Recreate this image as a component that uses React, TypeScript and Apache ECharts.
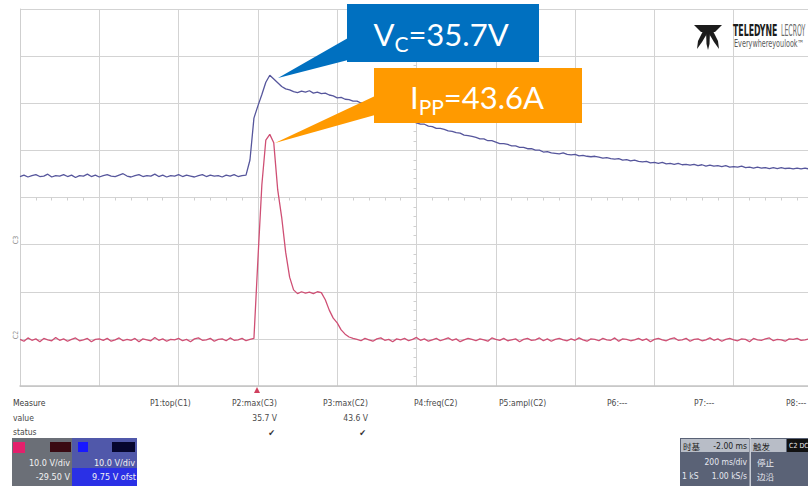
import React, { useEffect, useRef } from 'react';
import * as echarts from 'echarts';

// Oscilloscope capture: time base in screen divisions, one sample every 0.05 div
const SAMPLE_DIV = 0.05;
const X_MAX_DIV = 9.937; // right edge of the picture (screen is cut just before the 10th division)
const Y_DIVS = 8;
const VOLTS_PER_DIV = 10;
const C3_MIN = -30.25; // C3 (voltage, blue) 10 V/div
const C2_MIN = -9.8; // C2 (current, red) 10 A/div

// C3 clamping voltage (V)
const blueVolts = [
  14.2, 14.5, 14.1, 14.4, 14.6, 14.2, 14.3, 14.7, 14.1, 14.4,
  14.3, 14.6, 14.2, 14.5, 14.0, 14.4, 14.3, 14.7, 14.2, 14.5,
  14.1, 14.4, 14.6, 14.3, 14.2, 14.5, 14.8, 14.3, 14.1, 14.4,
  14.6, 14.2, 14.4, 14.3, 14.7, 14.2, 14.5, 14.1, 14.4, 14.3,
  14.6, 14.2, 14.5, 14.3, 14.1, 14.4, 14.6, 14.2, 14.5, 14.3,
  14.4, 14.1, 14.5, 14.3, 14.6, 14.2, 14.4, 14.5,
  17.7, 26.6, 29.2, 31.6, 34.2, 35.7, 34.9, 34.1, 33.3, 32.8,
  32.6, 32.2, 32.0, 32.3, 32.1, 32.4, 31.9, 32.1, 31.8, 31.9,
  31.5, 31.3, 30.9, 31.0, 30.6, 30.5, 30.2, 30.2, 29.8, 29.7,
  29.4, 29.2, 28.8, 28.4, 27.9, 27.8, 27.3, 27.0, 26.7, 26.5,
  26.0, 25.9, 25.6, 25.3, 25.3, 24.9, 24.8, 24.4, 24.4, 24.2,
  23.9, 23.8, 23.5, 23.4, 23.0, 22.9, 22.7, 22.5, 22.2, 22.2,
  21.8, 21.8, 21.5, 21.2, 21.2, 21.0, 20.7, 20.7, 20.4, 20.4,
  20.1, 20.1, 19.8, 19.8, 19.4, 19.5, 19.2, 19.1, 19.0, 19.2,
  18.9, 18.8, 18.9, 18.6, 18.7, 18.5, 18.4, 18.5, 18.3, 18.1,
  18.2, 18.0, 17.9, 18.0, 17.7, 17.8, 17.5, 17.7, 17.4, 17.3,
  17.4, 17.1, 17.2, 17.0, 17.2, 16.9, 17.0, 16.8, 17.0, 16.7,
  16.8, 16.6, 16.8, 16.5, 16.7, 16.4, 16.6, 16.4, 16.5, 16.3,
  16.5, 16.2, 16.3, 16.2, 16.4, 16.1, 16.2, 16.0, 16.2, 16.0,
  16.1, 15.9, 16.1, 15.9, 16.1, 15.9, 16.0, 15.8, 16.0, 15.8,
  16.0, 15.8,
];

// C2 surge current (A)
const redAmps = [
  0.1, -0.3, 0.4, -0.1, 0.2, -0.4, 0.3, 0.0, -0.2, 0.5,
  -0.1, 0.2, -0.3, 0.1, 0.4, -0.2, 0.0, 0.3, -0.4, 0.1,
  0.2, -0.1, 0.3, -0.3, 0.0, 0.4, -0.2, 0.1, -0.1, 0.3,
  -0.4, 0.2, 0.0, -0.2, 0.5, -0.1, 0.2, -0.3, 0.1, 0.0,
  0.3, -0.2, 0.1, -0.4, 0.2, 0.4, -0.1, 0.0, 0.3, -0.3,
  0.1, 0.2, -0.2, 0.4, -0.1, 0.0, 0.3, -0.2, 0.1,
  0.3, 17.0, 32.9, 42.4, 43.6, 41.8, 31.8, 26.0, 18.6, 13.3,
  10.6, 9.8, 10.2, 9.9, 10.1, 9.8, 10.2, 10.0, 8.5, 6.3,
  4.6, 3.6, 2.1, 1.2, 0.6, 0.3,
  0.1, -0.2, 0.3, 0.0, -0.3, 0.2, 0.4, -0.1, 0.1, -0.4,
  0.2, 0.0, 0.3, -0.2, 0.1, 0.5, -0.1, 0.2, -0.3, 0.0,
  0.3, -0.2, 0.1, 0.4, -0.1, 0.2, -0.4, 0.0, 0.3, 0.1,
  -0.2, 0.2, 0.0, -0.3, 0.4, 0.1, -0.1, 0.3, -0.2, 0.0,
  0.2, -0.4, 0.1, 0.3, -0.1, 0.0, 0.4, -0.2, 0.2, -0.3,
  0.1, 0.3, 0.0, -0.2, 0.2, -0.1, 0.4, 0.0, -0.3, 0.2,
  0.1, -0.2, 0.3, 0.0, -0.1, 0.4, -0.3, 0.2, 0.1, -0.2,
  0.0, 0.3, -0.1, 0.2, -0.4, 0.1, 0.3, 0.0, -0.2, 0.2,
  0.4, -0.1, 0.0, 0.3, -0.3, 0.1, 0.2, -0.2, 0.0, 0.4,
  -0.1, 0.2, -0.3, 0.1, 0.3, 0.0, -0.2, 0.2, 0.1, -0.4,
  0.3, 0.0, -0.1, 0.2, 0.4, -0.2, 0.1, 0.0, -0.3, 0.2,
  0.1, 0.3, -0.1, 0.0, 0.2,
];

const measureLabels = ['P1:top(C1)', 'P2:max(C3)', 'P3:max(C2)', 'P4:freq(C2)', 'P5:ampl(C2)', 'P6:---', 'P7:---', 'P8:---'];
const measureValues = ['', '35.7 V', '43.6 V', '', '', '', '', ''];
const measureStatus = ['', '✔', '✔', '', '', '', '', ''];
const vcLabel = { name: 'V', sub: 'C', rest: '=35.7V' };
const ippLabel = { name: 'I', sub: 'PP', rest: '=43.6A' };

const UI = '"Liberation Sans Narrow", "DejaVu Sans Condensed", "Liberation Sans", sans-serif';
const CJK = '"Noto Sans CJK SC", sans-serif';
const CALLOUT = 'Lato, "Open Sans", sans-serif';
const GRID = '#d3d3d3';

function txt(x: number, y: number, text: string, extra: any = {}, elExtra: any = {}) {
  return {
    type: 'text', x, y, z: 30, ...elExtra,
    style: { text, fill: '#4a4a4a', fontFamily: UI, fontSize: 8.5, verticalAlign: 'middle', ...extra },
  };
}

function callout(cx: number, cy: number, l: { name: string; sub: string; rest: string }, subShift: number) {
  return {
    type: 'text', x: cx, y: cy, z: 30,
    style: {
      text: `{m|${l.name}}{s|${l.sub}}{m|${l.rest}}`,
      align: 'center', verticalAlign: 'middle', fill: '#fff',
      rich: {
        m: { fontSize: 31, fontFamily: CALLOUT, fill: '#fff', lineHeight: 40 },
        s: { fontSize: 21, fontFamily: CALLOUT, fill: '#fff', lineHeight: 40 - subShift * 2, verticalAlign: 'bottom' },
      },
    },
  };
}

export default function App() {
  const ref = useRef<HTMLDivElement>(null);
  useEffect(() => {
    if (!ref.current) return;
    const chart = echarts.init(ref.current, null, { renderer: 'svg' });
    const blueData = blueVolts.map((v, i) => [i * SAMPLE_DIV, v]);
    const redData = redAmps.map((v, i) => [i * SAMPLE_DIV, v]);

    const graphic: any[] = [];
    // callouts
    graphic.push({ type: 'polygon', z: 25, shape: { points: [[348, 38], [348, 60], [278, 78]] }, style: { fill: '#0070C0' } });
    graphic.push({ type: 'rect', z: 25, shape: { x: 347, y: 4, width: 192, height: 58 }, style: { fill: '#0070C0' } });
    graphic.push(callout(441, 34, vcLabel, 5));
    graphic.push({ type: 'polygon', z: 25, shape: { points: [[375, 96], [375, 115], [275, 143]] }, style: { fill: '#FF9A00' } });
    graphic.push({ type: 'rect', z: 25, shape: { x: 374, y: 68, width: 208, height: 55 }, style: { fill: '#FF9A00' } });
    graphic.push(callout(477, 97, ippLabel, 6));

    // logo
    const logo = '#1c1c1c';
    graphic.push({ type: 'polygon', z: 20, shape: { points: [[694, 25], [722, 25], [715, 32], [701, 32]] }, style: { fill: logo } });
    graphic.push({ type: 'polygon', z: 20, shape: { points: [[703, 31], [708, 32], [702, 42], [697, 49], [698, 41]] }, style: { fill: logo } });
    graphic.push({ type: 'polygon', z: 20, shape: { points: [[706, 31], [710, 31], [709.5, 44], [708, 50], [706.5, 44]] }, style: { fill: logo } });
    graphic.push({ type: 'polygon', z: 20, shape: { points: [[708, 32], [713, 31], [718, 41], [719, 49], [714, 42]] }, style: { fill: logo } });
    graphic.push(txt(733, 31, 'TELEDYNE', { fontSize: 15, fontWeight: 'bold', fill: '#1c1c1c' }, { scaleX: 0.58 }));
    graphic.push(txt(781, 31, 'LECROY', { fontSize: 15, fill: '#6a6a6a' }, { scaleX: 0.46 }));
    graphic.push(txt(734, 44, 'Everywhereyoulook™', { fontSize: 10, fill: '#5a5a5a' }, { scaleX: 0.72 }));

    // channel markers
    graphic.push(txt(16, 240, 'C3', { fontSize: 7, fill: '#8a8a8a', align: 'center' }, { rotation: Math.PI / 2 }));
    graphic.push(txt(16, 335, 'C2', { fontSize: 7, fill: '#8a8a8a', align: 'center' }, { rotation: Math.PI / 2 }));
    // trigger marker
    graphic.push({ type: 'polygon', z: 20, shape: { points: [[254, 393], [260, 393], [257, 387]] }, style: { fill: '#d0405e' } });

    // measurement table
    graphic.push(txt(13, 403, 'Measure', { fill: '#3a3a3a' }));
    graphic.push(txt(13, 418, 'value'));
    graphic.push(txt(13, 432, 'status'));
    const colX = [150, 232, 323, 414, 499, 607, 694, 786];
    const colR = [190, 277, 368, 457, 546, 634, 726, 808];
    measureLabels.forEach((l, i) => {
      graphic.push(txt(colX[i], 403, l));
      if (measureValues[i]) graphic.push(txt(colR[i], 418, measureValues[i], { align: 'right' }));
      if (measureStatus[i]) graphic.push(txt(colR[i] - 2, 433, measureStatus[i], { align: 'right', fontSize: 9, fill: '#333' }));
    });

    // C2 descriptor box
    graphic.push({ type: 'rect', z: 20, shape: { x: 12, y: 438, width: 60, height: 48 }, style: { fill: '#6b6f77' } });
    graphic.push({ type: 'rect', z: 21, shape: { x: 13, y: 442, width: 12, height: 11 }, style: { fill: '#e3206c' } });
    graphic.push({ type: 'rect', z: 21, shape: { x: 50, y: 442, width: 21, height: 10 }, style: { fill: '#3a0a12' } });
    graphic.push(txt(70, 463, '10.0 V/div', { align: 'right', fill: '#f2f2f2', fontSize: 9 }));
    graphic.push(txt(70, 477, '-29.50 V', { align: 'right', fill: '#f2f2f2', fontSize: 9 }));
    // C3 descriptor box
    graphic.push({ type: 'rect', z: 20, shape: { x: 72, y: 438, width: 65, height: 30 }, style: { fill: '#5058aa' } });
    graphic.push({ type: 'rect', z: 20, shape: { x: 72, y: 468, width: 65, height: 18 }, style: { fill: '#2a30e6' } });
    graphic.push({ type: 'rect', z: 21, shape: { x: 78, y: 442, width: 10, height: 10 }, style: { fill: '#1818ff' } });
    graphic.push({ type: 'rect', z: 21, shape: { x: 112, y: 442, width: 23, height: 10 }, style: { fill: '#06062e' } });
    graphic.push(txt(135, 463, '10.0 V/div', { align: 'right', fill: '#f2f2f2', fontSize: 9 }));
    graphic.push(txt(136, 477, '9.75 V ofst', { align: 'right', fill: '#f2f2f2', fontSize: 9 }));

    // timebase / trigger box
    graphic.push({ type: 'rect', z: 20, shape: { x: 680, y: 438, width: 128, height: 48 }, style: { fill: '#5a6276' } });
    graphic.push({ type: 'rect', z: 21, shape: { x: 681, y: 439, width: 68, height: 13 }, style: { fill: '#b8bdc7' } });
    graphic.push({ type: 'rect', z: 21, shape: { x: 751, y: 439, width: 35, height: 13 }, style: { fill: '#b8bdc7' } });
    graphic.push({ type: 'rect', z: 21, shape: { x: 787, y: 439, width: 21, height: 13 }, style: { fill: '#111111' } });
    graphic.push({ type: 'rect', z: 21, shape: { x: 749.5, y: 438, width: 1.5, height: 48 }, style: { fill: '#c8ccd4' } });
    graphic.push(txt(683, 446, '时基', { fontSize: 8.5, fill: '#222', fontFamily: CJK }));
    graphic.push(txt(747, 446, '-2.00 ms', { fontSize: 8.5, fill: '#222', align: 'right' }));
    graphic.push(txt(753, 446, '触发', { fontSize: 8.5, fill: '#222', fontFamily: CJK }));
    graphic.push(txt(789, 446, 'C2 DC', { fontSize: 7, fill: '#eee' }));
    graphic.push(txt(747, 462, '200 ms/div', { fontSize: 8.5, fill: '#e6e8f0', align: 'right' }));
    graphic.push(txt(757, 462, '停止', { fontSize: 8.5, fill: '#e6e8f0', fontFamily: CJK }));
    graphic.push(txt(682, 476, '1 kS', { fontSize: 8.5, fill: '#e6e8f0' }));
    graphic.push(txt(747, 476, '1.00 kS/s', { fontSize: 8.5, fill: '#e6e8f0', align: 'right' }));
    graphic.push(txt(757, 476, '边沿', { fontSize: 8.5, fill: '#e6e8f0', fontFamily: CJK }));

    const hidden = { axisLine: { show: false, onZero: false }, axisTick: { show: false }, axisLabel: { show: false }, splitLine: { show: false } };

    chart.setOption({
      animation: false,
      backgroundColor: '#ffffff',
      grid: { left: 20, top: 9, right: 0, bottom: 100 },
      xAxis: [
        {
          type: 'value', min: 0, max: X_MAX_DIV, interval: 1,
          axisLine: { show: true, onZero: false, lineStyle: { color: '#c4c4c4', width: 1.5 } },
          axisTick: { show: false }, axisLabel: { show: false },
          splitLine: { show: true, lineStyle: { color: GRID, width: 1 } },
        },
        {
          type: 'value', min: 0, max: X_MAX_DIV, interval: 1, position: 'bottom', offset: -188.5,
          ...hidden,
          minorTick: { show: true, splitNumber: 5, length: 3, lineStyle: { color: '#cfcfcf' } },
        },
      ],
      yAxis: [
        {
          type: 'value', min: 0, max: Y_DIVS, interval: 1,
          axisLine: { show: true, onZero: false, lineStyle: { color: '#cfcfcf' } },
          axisTick: { show: false }, axisLabel: { show: false },
          splitLine: { show: true, lineStyle: { color: GRID, width: 1 } },
        },
        { type: 'value', min: C3_MIN, max: C3_MIN + Y_DIVS * VOLTS_PER_DIV, show: false, ...hidden },
        { type: 'value', min: C2_MIN, max: C2_MIN + Y_DIVS * VOLTS_PER_DIV, show: false, ...hidden },
        {
          type: 'value', min: 0, max: Y_DIVS, interval: 1, position: 'left', offset: -396.5,
          ...hidden,
          minorTick: { show: true, splitNumber: 5, length: 3, lineStyle: { color: '#cfcfcf' } },
        },
      ],
      series: [
        {
          name: 'C2 current', type: 'line', xAxisIndex: 0, yAxisIndex: 2, data: redData,
          symbol: 'none', lineStyle: { color: '#cf4f74', width: 1.3 }, z: 3,
        },
        {
          name: 'C3 voltage', type: 'line', xAxisIndex: 0, yAxisIndex: 1, data: blueData,
          symbol: 'none', lineStyle: { color: '#56569c', width: 1.3 }, z: 4,
        },
      ],
      graphic,
    });
    return () => chart.dispose();
  }, []);
  return <div ref={ref} style={{ position: 'absolute', left: 0, top: 0, width: 808, height: 486 }} />;
}
